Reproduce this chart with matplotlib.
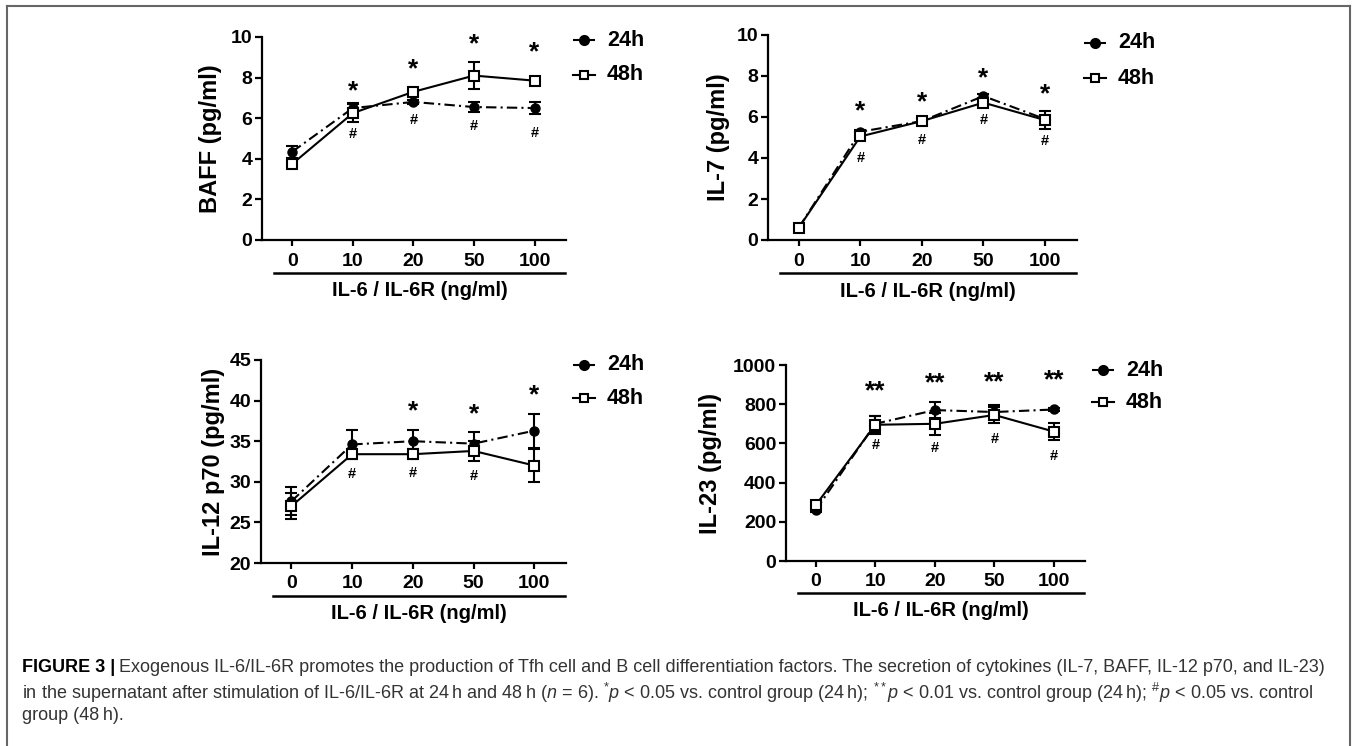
import matplotlib
matplotlib.use("Agg")
import matplotlib.pyplot as plt
from matplotlib.lines import Line2D
import matplotlib.transforms as mtransforms

plt.rcParams['font.family'] = ['Liberation Sans', 'DejaVu Sans']
plt.rcParams['mathtext.fontset'] = 'custom'
plt.rcParams['mathtext.rm'] = 'Liberation Sans'
plt.rcParams['mathtext.it'] = 'Liberation Sans:italic'
plt.rcParams['mathtext.bf'] = 'Liberation Sans:bold'

doses = ['0', '10', '20', '50', '100']
xlabel = 'IL-6 / IL-6R (ng/ml)'

# BAFF
baff_24 = [4.35, 6.5, 6.8, 6.55, 6.5]
baff_24_err = [0.3, 0.25, 0.1, 0.25, 0.3]
baff_48 = [3.75, 6.25, 7.3, 8.1, 7.85]
baff_48_err = [0.1, 0.45, 0.15, 0.65, 0.15]
baff_star = ['', '*', '*', '*', '*']
baff_star_y = [0, 7.3, 8.4, 9.65, 9.25]
baff_hash_y = [None, 5.2, 5.9, 5.6, 5.25]

# IL-7
il7_24 = [0.6, 5.28, 5.8, 7.02, 5.9]
il7_24_err = [0.05, 0.1, 0.1, 0.1, 0.1]
il7_48 = [0.6, 5.05, 5.8, 6.7, 5.85]
il7_48_err = [0.05, 0.1, 0.1, 0.15, 0.45]
il7_star = ['', '*', '*', '*', '*']
il7_star_y = [0, 6.3, 6.7, 7.9, 7.1]
il7_hash_y = [None, 4.0, 4.9, 5.85, 4.85]

# IL-12 p70
il12_24 = [27.6, 34.6, 35.0, 34.7, 36.3]
il12_24_err = [1.7, 1.8, 1.4, 1.4, 2.1]
il12_48 = [27.0, 33.4, 33.4, 33.8, 32.0]
il12_48_err = [1.6, 0.5, 0.6, 1.2, 2.0]
il12_star = ['', '', '*', '*', '*']
il12_star_y = [0, 0, 38.7, 38.3, 40.6]
il12_hash_y = [None, 31.0, 31.1, 30.7, None]

# IL-23
il23_24 = [260, 700, 770, 760, 773]
il23_24_err = [10, 40, 40, 35, 10]
il23_48 = [285, 695, 700, 745, 660]
il23_48_err = [10, 45, 55, 40, 45]
il23_star = ['', '**', '**', '**', '**']
il23_star_y = [0, 868, 905, 914, 922]
il23_hash_y = [None, 591, 579, 620, 535]

W, H = 1357, 746
fig = plt.figure(figsize=(W / 100, H / 100), dpi=100)


def px_axes(left, right, bottom, top):
    return fig.add_axes([left / W, 1 - bottom / H, (right - left) / W, (bottom - top) / H])


panels = [
    dict(box=(262, 566, 240, 37), ylim=(0, 10), yticks=[0, 2, 4, 6, 8, 10], ylabel='BAFF (pg/ml)',
         d24=baff_24, e24=baff_24_err, d48=baff_48, e48=baff_48_err,
         star=baff_star, star_y=baff_star_y, hash_y=baff_hash_y, ylab_x=-0.13, leg_y=(40, 75)),
    dict(box=(768, 1077, 240, 35), ylim=(0, 10), yticks=[0, 2, 4, 6, 8, 10], ylabel='IL-7 (pg/ml)',
         d24=il7_24, e24=il7_24_err, d48=il7_48, e48=il7_48_err,
         star=il7_star, star_y=il7_star_y, hash_y=il7_hash_y, ylab_x=-0.123, leg_y=(43, 78)),
    dict(box=(261, 566, 563, 360), ylim=(20, 45), yticks=[20, 25, 30, 35, 40, 45], ylabel='IL-12 p70 (pg/ml)',
         d24=il12_24, e24=il12_24_err, d48=il12_48, e48=il12_48_err,
         star=il12_star, star_y=il12_star_y, hash_y=il12_hash_y, ylab_x=-0.118, leg_y=(365, 398)),
    dict(box=(786, 1085, 561, 365), ylim=(0, 1000), yticks=[0, 200, 400, 600, 800, 1000], ylabel='IL-23 (pg/ml)',
         d24=il23_24, e24=il23_24_err, d48=il23_48, e48=il23_48_err,
         star=il23_star, star_y=il23_star_y, hash_y=il23_hash_y, ylab_x=-0.214, leg_y=(370, 402)),
]

x = list(range(len(doses)))

for p in panels:
    ax = px_axes(*p['box'])
    ax.errorbar(x, p['d24'], yerr=p['e24'], color='black', ls=(0, (5, 2, 1, 2)), lw=1.5,
                marker='o', ms=6.5, mfc='black', mec='black', capsize=4.5, elinewidth=1.5,
                capthick=1.5, label='24h', zorder=3)
    ax.errorbar(x, p['d48'], yerr=p['e48'], color='black', ls='-', lw=1.5,
                marker='s', ms=7, mfc='white', mec='black', mew=1.5, capsize=4.5, elinewidth=1.5,
                capthick=1.5, label='48h', zorder=4)
    for i in x:
        if p['star'][i]:
            ax.text(i, p['star_y'][i], p['star'][i], ha='center', va='center',
                    fontsize=19, fontweight='bold')
        if p['hash_y'][i] is not None:
            ax.text(i, p['hash_y'][i], '#', ha='center', va='center', fontsize=10.5, fontweight='bold')

    ax.set_xlim(-0.5, 4.52)
    ax.set_ylim(*p['ylim'])
    ax.set_yticks(p['yticks'])
    ax.set_xticks(x)
    ax.set_xticklabels(doses)
    ax.spines['top'].set_visible(False)
    ax.spines['right'].set_visible(False)
    for s in ('left', 'bottom'):
        ax.spines[s].set_linewidth(1.6)
    ax.tick_params(axis='y', direction='out', length=5, width=1.6, labelsize=14, pad=2)
    ax.tick_params(axis='x', direction='out', length=4, width=1.6, labelsize=14, pad=5)
    for lab in ax.get_xticklabels() + ax.get_yticklabels():
        lab.set_fontweight('bold')
    ax.set_ylabel(p['ylabel'], fontsize=17, fontweight='bold')
    ax.yaxis.set_label_coords(p['ylab_x'], 0.5)

    # grouping bar under tick labels, and x title
    trans = mtransforms.blended_transform_factory(ax.transData, ax.transAxes)
    ax.plot([-0.3, 4.5], [-0.163, -0.163], color='black', lw=1.8, transform=trans, clip_on=False)
    ax.text(2.1, -0.25, xlabel, transform=trans, ha='center', va='center',
            fontsize=14.5, fontweight='bold')

    # legend
    right_px = p['box'][1]
    for (lbl, ly, ls, mk, mfc) in [('24h', p['leg_y'][0], (0, (3, 2, 1, 2)), 'o', 'black'),
                                    ('48h', p['leg_y'][1], '-', 's', 'white')]:
        lx0, lx1 = (right_px + 7) / W, (right_px + 29) / W
        yy = 1 - ly / H
        fig.add_artist(Line2D([lx0, lx1], [yy, yy], color='black', lw=1.5, ls=ls))
        fig.add_artist(Line2D([(lx0 + lx1) / 2], [yy], marker=mk, ms=6.5 if mk == 'o' else 6,
                              mfc=mfc, mec='black', mew=1.5, ls='none'))
        fig.text((right_px + 41) / W, yy, lbl, fontsize=15.5, fontweight='bold', va='center')

# frame
gray = '#666666'
fig.add_artist(Line2D([7 / W, 1350 / W], [1 - 6 / H, 1 - 6 / H], color=gray, lw=1.5))
fig.add_artist(Line2D([7 / W, 7 / W], [0, 1 - 6 / H], color=gray, lw=1.5))
fig.add_artist(Line2D([1350 / W, 1350 / W], [0, 1 - 6 / H], color=gray, lw=1.5))

# caption
cap_fs = 13
cap_col = '#333333'
fig.canvas.draw()
renderer = fig.canvas.get_renderer()
head = fig.text(22 / W, 1 - 668 / H, 'FIGURE 3 |', fontsize=cap_fs, fontweight='bold',
                color='black', va='center')
bb = head.get_window_extent(renderer)
fig.text((bb.x1 + 4) / W, 1 - 668 / H,
         'Exogenous IL-6/IL-6R promotes the production of Tfh cell and B cell differentiation factors. '
         'The secretion of cytokines (IL-7, BAFF, IL-12 p70, and IL-23)',
         fontsize=cap_fs, color=cap_col, va='center')
fig.text(22 / W, 1 - 693 / H,
         'in the supernatant after stimulation of IL-6/IL-6R at 24\u2009h and 48\u2009h ($n$ = 6). '
         '$^{*}p$ < 0.05 vs. control group (24\u2009h); $^{**}p$ < 0.01 vs. control group (24\u2009h); '
         '$^{\\#}p$ < 0.05 vs. control',
         fontsize=cap_fs, color=cap_col, va='center')
fig.text(22 / W, 1 - 716 / H, 'group (48\u2009h).', fontsize=cap_fs, color=cap_col, va='center')

fig.savefig('out.png', dpi=100)
